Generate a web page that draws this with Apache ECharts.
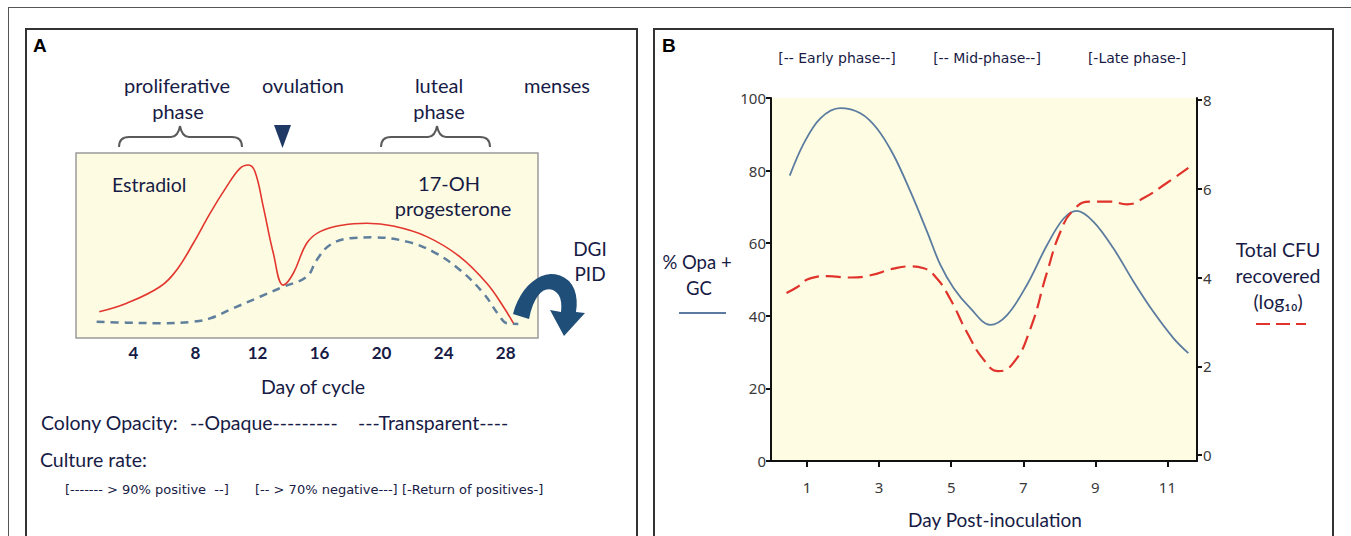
<!DOCTYPE html>
<html><head><meta charset="utf-8">
<script src="https://cdn.jsdelivr.net/npm/echarts@6/dist/echarts.min.js"></script>
<style>html,body{margin:0;padding:0;background:#fff}#c{width:1351px;height:536px}</style>
</head><body><div id="c"></div>
<script>
// ---- Panel A data (day of cycle, relative hormone level) ----
const estradiolDays  = [1.8,3.57,5.71,6.79,7.86,8.94,10.01,10.87,11.41,11.84,12.37,13.02,13.66,14.31,15.17,16.03,17.53,19.04,20.75,22.91,25.05,26.78,27.85,28.49];
const estradiolLevel = [14.2,18.8,27.7,36.8,51.2,67.4,81.8,91.7,93.5,89.9,71.0,45.8,28.6,35.0,51.2,57.5,61.1,62.0,60.5,54.8,43.9,29.6,16.9,8.0];
const progDays  = [1.63,3.57,5.71,7.86,8.94,10.44,12.16,13.66,15.17,15.82,16.67,17.96,19.47,21.62,23.33,25.05,26.56,27.63,28.07,28.81];
const progLevel = [8.8,8.3,8.0,8.8,10.6,16.1,22.3,27.7,33.1,42.2,50.3,53.9,54.4,52.1,46.6,36.8,24.2,11.5,8.0,7.6];
const cycleTicks = [4,8,12,16,20,24,28];

// ---- Panel B data (day post-inoculation) ----
const opaDays = [0.52,0.91,1.37,1.92,2.48,2.94,3.40,3.87,4.33,4.70,5.07,5.53,6.08,6.55,7.10,7.66,8.12,8.49,8.95,9.50,10.06,10.61,11.17,11.58];
const opaPct  = [78.6,87.5,94.4,97.2,95.8,91.6,84.3,74.2,63.2,54.0,47.6,42.1,37.5,40.2,48.5,59.5,66.8,68.9,65.9,58.6,49.4,41.1,33.8,29.7];
const cfuDays = [0.43,0.72,1.09,1.56,2.20,2.76,3.40,3.87,4.24,4.61,4.97,5.44,5.90,6.31,6.73,7.19,7.66,8.03,8.39,8.86,9.41,9.88,10.34,10.98,11.58];
const cfuLog  = [3.65,3.78,3.98,4.03,4.0,4.05,4.20,4.25,4.21,3.97,3.52,2.76,2.15,1.89,2.08,2.83,4.12,5.03,5.52,5.71,5.71,5.65,5.79,6.13,6.47];
const dayTicks = [1,3,5,7,9,11];
const cfuTicks = [0,2,4,6,8];

const zip = (a,b)=>a.map((v,i)=>[v,b[i]]);
const NAVY = '#171b45';
const TF = 'Lato, "Open Sans", sans-serif';
const SF = '"DejaVu Sans", sans-serif';
function txt(x,y,s,size,opt){
  opt = opt||{};
  return {type:'text', x:x, y:y, silent:true, z:10,
    style:{text:s, font:(opt.weight||'normal')+' '+size+'px '+(opt.family||TF), fill:opt.fill||NAVY,
      align:opt.align||'center', verticalAlign:'middle'}};
}
function cubic(p0,p1,p2,p3,n){
  const out=[];
  for(let i=1;i<=n;i++){const t=i/n,u=1-t;
    out.push([u*u*u*p0[0]+3*u*u*t*p1[0]+3*u*t*t*p2[0]+t*t*t*p3[0], u*u*u*p0[1]+3*u*u*t*p1[1]+3*u*t*t*p2[1]+t*t*t*p3[1]]);}
  return out;
}
function brace(x0,x1,xm,yb,yh,yt,col){
  const L=(a,b,c,d)=>({type:'line',silent:true,shape:{x1:a,y1:b,x2:c,y2:d},style:{stroke:col,lineWidth:2}});
  const Q=(a,b,c,d,e,f)=>({type:'bezierCurve',silent:true,shape:{x1:a,y1:b,x2:c,y2:d,cpx1:e,cpy1:f},style:{stroke:col,lineWidth:2,fill:'none'}});
  return [Q(x0,yb,x0+10,yh,x0,yh), L(x0+10,yh,xm-9,yh), Q(xm-9,yh,xm,yt,xm-2,yh), Q(xm,yt,xm+9,yh,xm+2,yh), L(xm+9,yh,x1-10,yh), Q(x1-10,yh,x1,yb,x1,yh)];
}
const arrowPts = [[513,314]]
  .concat(cubic([513,314],[521,282],[549,263],[569,281],14))
  .concat(cubic([569,281],[576,288],[578,300],[576,312],6))
  .concat([[585,313],[564,336],[550,310],[561,312]])
  .concat(cubic([561,312],[562,303],[561,296],[556,292],5))
  .concat(cubic([556,292],[546,284],[534,293],[529,319],10));

const chart = echarts.init(document.getElementById('c'), null, {renderer:'svg'});
chart.setOption({
  animation:false,
  backgroundColor:'#fff',
  grid:[
    {left:76, top:153, width:462, height:185, show:true, backgroundColor:'#fdfbe2', borderColor:'#9b9b9b', borderWidth:1.5},
    {left:771, top:98, width:426, height:363, show:true, backgroundColor:'#fefde3', borderWidth:0}
  ],
  xAxis:[
    {gridIndex:0, type:'value', min:0.3, max:30.08, axisLine:{show:false}, axisTick:{show:false}, splitLine:{show:false},
      axisLabel:{customValues:cycleTicks, margin:6, fontSize:17, fontWeight:'bold', color:NAVY, fontFamily:TF}},
    {gridIndex:1, type:'value', min:0, max:11.82, splitLine:{show:false},
      axisLine:{lineStyle:{color:'#111', width:2}},
      axisTick:{customValues:dayTicks, length:6, lineStyle:{color:'#111', width:2}},
      axisLabel:{customValues:dayTicks, margin:18, fontSize:15, color:'#3a3a3a', fontFamily:'"Noto Sans", sans-serif'}}
  ],
  yAxis:[
    {gridIndex:0, type:'value', min:0, max:100, show:false},
    {gridIndex:1, type:'value', min:0, max:100, interval:20, splitLine:{show:false},
      axisLine:{show:true, lineStyle:{color:'#111', width:2}},
      axisTick:{show:true, length:5, lineStyle:{color:'#111', width:2}},
      axisLabel:{margin:5, fontSize:15, color:'#3a3a3a', fontFamily:'"Noto Sans", sans-serif'}},
    {gridIndex:1, type:'value', position:'right', min:-0.135, max:8.045, splitLine:{show:false},
      axisLine:{show:true, lineStyle:{color:'#111', width:2}},
      axisTick:{show:true, customValues:cfuTicks, length:5, lineStyle:{color:'#111', width:2}},
      axisLabel:{customValues:cfuTicks, margin:6, fontSize:15, color:'#3a3a3a', fontFamily:'"Noto Sans", sans-serif'}}
  ],
  series:[
    {type:'line', xAxisIndex:0, yAxisIndex:0, data:zip(progDays,progLevel), smooth:0.4, showSymbol:false,
      lineStyle:{color:'#5f7f9d', width:2.5, type:[8,6]}},
    {type:'line', xAxisIndex:0, yAxisIndex:0, data:zip(estradiolDays,estradiolLevel), smooth:0.4, showSymbol:false,
      lineStyle:{color:'#e2362e', width:1.6}},
    {type:'line', xAxisIndex:1, yAxisIndex:1, data:zip(opaDays,opaPct), smooth:0.35, showSymbol:false,
      lineStyle:{color:'#5b7ca0', width:1.8}},
    {type:'line', xAxisIndex:1, yAxisIndex:2, data:zip(cfuDays,cfuLog), smooth:0.5, showSymbol:false,
      lineStyle:{color:'#e0332b', width:2.2, type:[15,7]}}
  ],
  graphic:[
    {type:'line', silent:true, shape:{x1:8,y1:7.5,x2:1351,y2:7.5}, style:{stroke:'#555', lineWidth:1}},
    {type:'line', silent:true, shape:{x1:8.5,y1:7,x2:8.5,y2:536}, style:{stroke:'#555', lineWidth:1}},
    {type:'rect', silent:true, shape:{x:26,y:29,width:611,height:530}, style:{fill:'none', stroke:'#333', lineWidth:2}},
    {type:'rect', silent:true, shape:{x:654,y:29,width:679,height:530}, style:{fill:'none', stroke:'#333', lineWidth:2}},
    txt(33,45,'A',19,{weight:'bold', family:'"Liberation Sans", Arial', align:'left', fill:'#000'}),
    txt(177,85,'proliferative',20), txt(178,111,'phase',20),
    txt(303,85,'ovulation',20),
    txt(439,85,'luteal',20), txt(439,111,'phase',20),
    txt(557,85,'menses',20)
  ].concat(brace(119,242,180,147,137,126,'#5a5a5a'))
   .concat(brace(381,490,437,147,137,126,'#5a5a5a'))
   .concat([
    {type:'polygon', silent:true, shape:{points:[[274,125],[291,125],[282.5,148]]}, style:{fill:'#1f3864'}},
    txt(112,184,'Estradiol',19.5,{align:'left'}),
    txt(449,183,'17-OH',20), txt(453,208,'progesterone',20),
    txt(590,248,'DGI',19), txt(590,273,'PID',19),
    {type:'polygon', silent:true, z:5, shape:{points:arrowPts}, style:{fill:'#1f4e79'}},
    txt(313,386,'Day of cycle',19.5),
    txt(41,422,'Colony Opacity:',19.5,{align:'left'}),
    txt(190,422,'--Opaque---------',19.5,{align:'left'}),
    txt(358,422,'---Transparent----',19.5,{align:'left'}),
    txt(40,459,'Culture rate:',19.5,{align:'left'}),
    txt(65,489,'[------- > 90% positive  --]',13,{align:'left', family:SF}),
    txt(255,489,'[-- > 70% negative---]',13,{align:'left', family:SF}),
    txt(402,489,'[-Return of positives-]',13,{align:'left', family:SF}),
    txt(662,45,'B',19,{weight:'bold', family:'"Liberation Sans", Arial', align:'left', fill:'#000'}),
    txt(837,58,'[-- Early phase--]',14,{family:SF}),
    txt(987,58,'[-- Mid-phase--]',14,{family:SF}),
    txt(1137,58,'[-Late phase-]',14,{family:SF}),
    txt(697,262,'% Opa +',18.5), txt(699,288,'GC',18.5),
    {type:'line', silent:true, shape:{x1:679,y1:313,x2:726,y2:313}, style:{stroke:'#5b7ca0', lineWidth:2}},
    txt(1278,249,'Total CFU',19.5), txt(1278,275,'recovered',19.5), txt(1278,301,'(log₁₀)',19.5),
    {type:'line', silent:true, shape:{x1:1256,y1:324,x2:1306,y2:324}, style:{stroke:'#e0332b', lineWidth:2, lineDash:[14,6]}},
    txt(995,519,'Day Post-inoculation',19)
  ])
});
</script></body></html>
